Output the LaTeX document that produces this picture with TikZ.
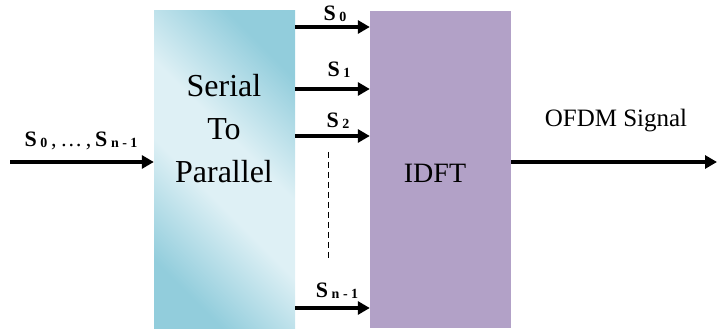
\documentclass[tikz,border=0pt]{standalone}
\usepackage{fontspec}
\setmainfont{Liberation Serif}
\usetikzlibrary{positioning, arrows.meta}

\definecolor{spdark}{HTML}{92CDDC}
\definecolor{splight}{HTML}{DEF0F5}
\definecolor{idftfill}{HTML}{B2A1C7}

% diagonal fill of the serial-to-parallel block, dark at both ends
\pgfdeclareverticalshading{spfade}{100bp}{color(0bp)=(spdark); color(25bp)=(spdark);
  color(44bp)=(splight); color(56bp)=(splight); color(75bp)=(spdark); color(100bp)=(spdark)}

% symbol S with a small bold index
\newcommand{\symS}[1]{\textbf{S}\,\raisebox{-1pt}{\fontsize{14}{14}\selectfont\bfseries #1}}

\tikzset{
  block/.style={minimum width=141pt, minimum height=317pt, inner sep=0pt},
  sigarrow/.style={line width=3.5pt, -{Triangle[length=12pt,width=13pt]}},
  symlabel/.style={font=\fontsize{22}{22}\selectfont, inner sep=0pt, anchor=base},
}

\begin{document}
\begin{tikzpicture}[x=1pt, y=-1pt]
  \useasboundingbox (0,0) rectangle (718,331);

  % ── Serial to parallel block ──
  \node[block, shading=spfade, shading angle=-45] (sp) at (224.5,169.5) {};
  \node[font=\fontsize{32}{43}\selectfont, align=center] (sptext) at (224,129)
    {Serial\\To\\Parallel};

  % ── IDFT block ──
  \node[block, fill=idftfill] (idft) at (440.5,169.5) {};
  \node[font=\fontsize{28}{28}\selectfont, anchor=base, inner sep=0pt] (idfttext)
    at (435,183) {IDFT};

  % ── Serial input ──
  \coordinate (in) at (10,162);
  \draw[sigarrow] (in) -- (sp.west |- in);
  \node[symlabel] (inlab) at (81,147) {\symS{0}\,,\,\ldots\,,\,\symS{n - 1}};

  % ── Parallel branches ──
  \foreach \k/\yy/\xl/\yl in {0/27/335/20.5, 1/89/339/77, 2/136/338/128, {n - 1}/308/337/298} {
    \coordinate (lvl) at (0,\yy);
    \draw[sigarrow] (sp.east |- lvl) -- (idft.west |- lvl);
    \node[symlabel] at (\xl,\yl) {\symS{\k}};
  }
  \coordinate (dtop) at (328,152);
  \coordinate (dbot) at (328,258);
  \draw[line width=1pt, dash pattern=on 6pt off 4pt] (dtop) -- (dbot);

  % ── OFDM output ──
  \coordinate (out) at (717,162);
  \draw[sigarrow] (idft.east |- out) -- (out);
  \node[font=\fontsize{25}{25}\selectfont, anchor=base, inner sep=0pt] (outlab)
    at (616,127) {OFDM Signal};
\end{tikzpicture}
\end{document}
